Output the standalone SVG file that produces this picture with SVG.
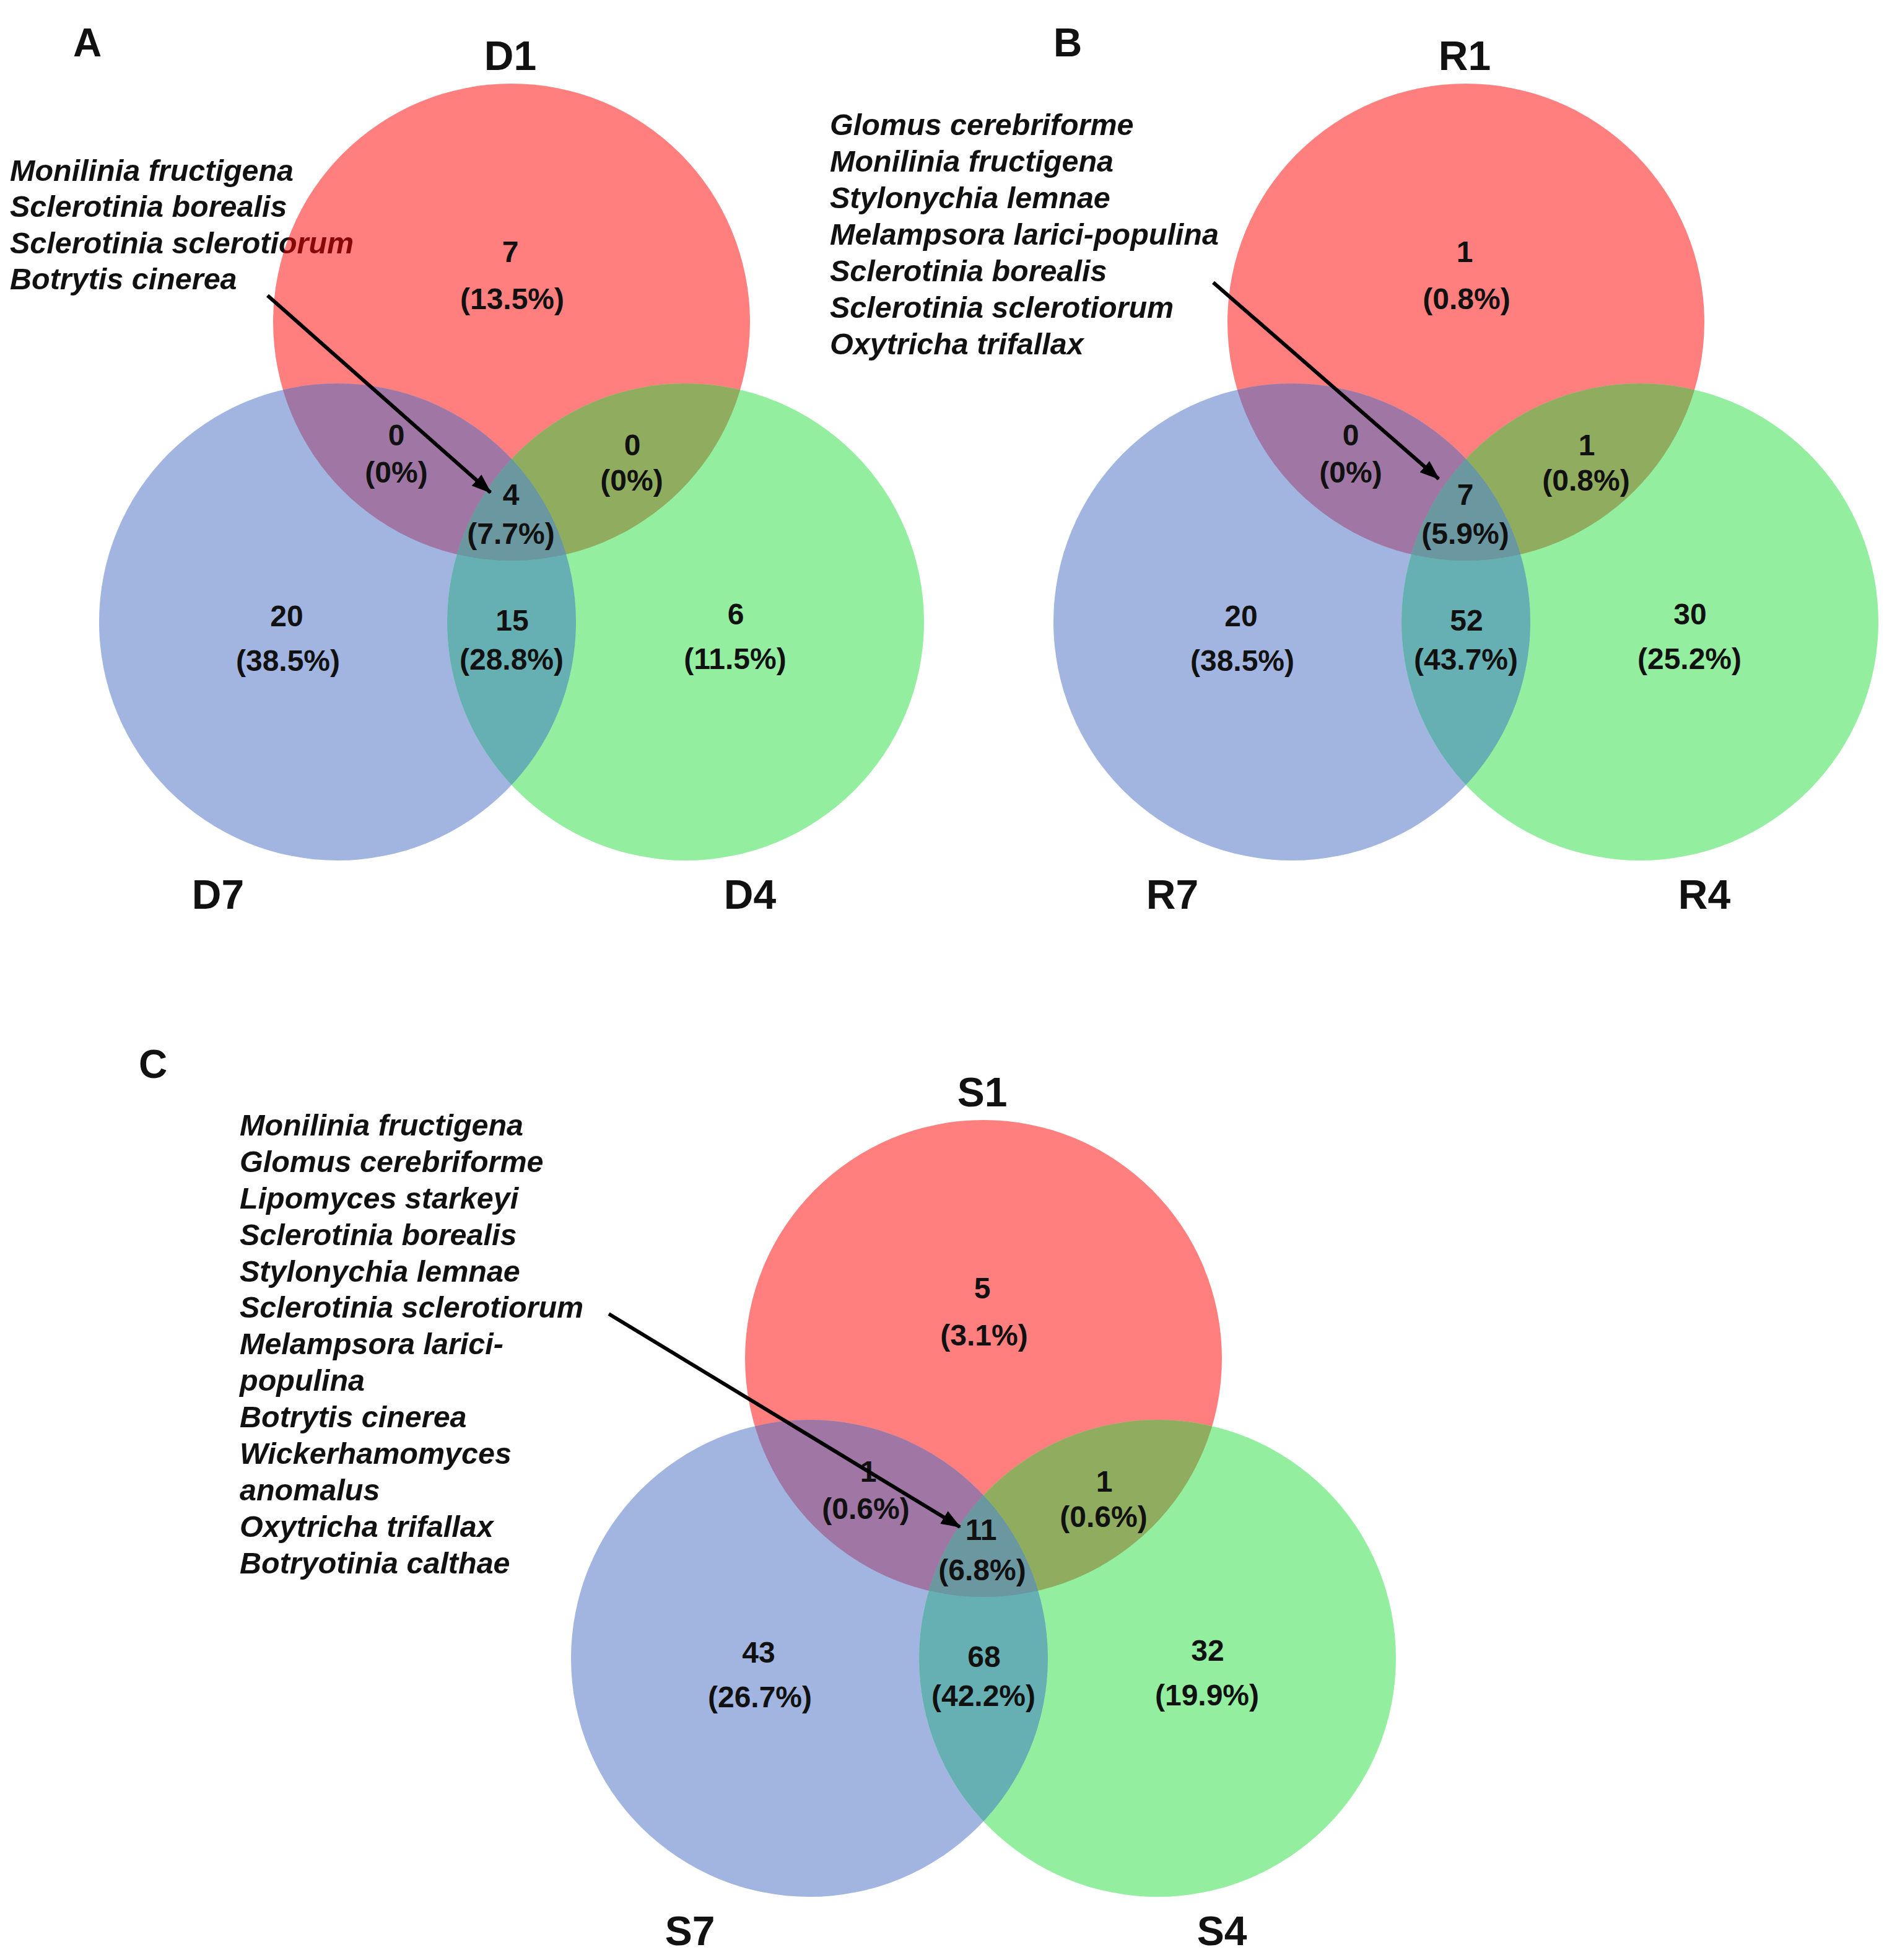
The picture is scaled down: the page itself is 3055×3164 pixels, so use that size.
<svg xmlns="http://www.w3.org/2000/svg" width="3055" height="3164" viewBox="0 0 3055 3164">
<style>
text{font-family:"Liberation Sans",Arial,sans-serif;font-weight:bold;fill:#111}
.sp{font-style:italic;font-size:48.5px}
.num{font-size:48px;text-anchor:middle}
.set{font-size:66px;text-anchor:middle}
.pan{font-size:64px;text-anchor:middle}
.red{fill:#FF0000;fill-opacity:0.5}
.blue{fill:#A1B5E0}
.green{fill:#93EEA0}
.rb{fill:#A076A4}
.rg{fill:#90AC5E}
.bg{fill:#66B0B4}
.rbg{fill:#6A97A0}
.arrow{stroke:#000;stroke-width:6;fill:none;marker-end:url(#ah)}
</style>
<defs>
<marker id="ah" markerUnits="userSpaceOnUse" markerWidth="32" markerHeight="24" refX="30" refY="12" orient="auto"><path d="M0,0 L32,12 L0,24 z" fill="#000"/></marker>
<clipPath id="cA1"><circle cx="826" cy="520" r="385"/></clipPath>
<clipPath id="cA7"><circle cx="545" cy="1004" r="385"/></clipPath>
<clipPath id="cB1"><circle cx="2367" cy="520" r="385"/></clipPath>
<clipPath id="cB7"><circle cx="2086" cy="1004" r="385"/></clipPath>
<clipPath id="cC1"><circle cx="1588" cy="2193" r="385"/></clipPath>
<clipPath id="cC7"><circle cx="1307" cy="2677" r="385"/></clipPath>
</defs>
<rect width="3055" height="3164" fill="#fff"/>

<!-- Panel A -->
<g id="panelA">
<text class="pan" x="141" y="91">A</text>
<g id="listA">
<text class="sp" x="16" y="292">Monilinia fructigena</text>
<text class="sp" x="16" y="350">Sclerotinia borealis</text>
<text class="sp" x="16" y="409">Sclerotinia sclerotiorum</text>
<text class="sp" x="16" y="467">Botrytis cinerea</text>
</g>
<g id="D1"><circle class="red" cx="826" cy="520" r="385"/><text class="set" x="824" y="113">D1</text></g>
<g id="D7"><circle class="blue" cx="545" cy="1004" r="385"/><text class="set" x="352" y="1467">D7</text></g>
<g id="D4"><circle class="green" cx="1107" cy="1004" r="385"/><text class="set" x="1211" y="1467">D4</text></g>
<g id="A-overlaps">
<circle class="rb" cx="545" cy="1004" r="385" clip-path="url(#cA1)"/>
<circle class="rg" cx="1107" cy="1004" r="385" clip-path="url(#cA1)"/>
<circle class="bg" cx="1107" cy="1004" r="385" clip-path="url(#cA7)"/>
<g clip-path="url(#cA1)"><circle class="rbg" cx="1107" cy="1004" r="385" clip-path="url(#cA7)"/></g>
</g>
<g id="A-counts">
<text class="num" x="824" y="423">7</text><text class="num" x="827" y="499">(13.5%)</text>
<text class="num" x="640" y="719">0</text><text class="num" x="640" y="779">(0%)</text>
<text class="num" x="1021" y="735">0</text><text class="num" x="1020" y="792">(0%)</text>
<text class="num" x="825" y="815">4</text><text class="num" x="825" y="878">(7.7%)</text>
<text class="num" x="463" y="1011">20</text><text class="num" x="465" y="1083">(38.5%)</text>
<text class="num" x="827" y="1018">15</text><text class="num" x="826" y="1081">(28.8%)</text>
<text class="num" x="1188" y="1008">6</text><text class="num" x="1187" y="1080">(11.5%)</text>
</g>
</g>

<!-- Panel B -->
<g id="panelB">
<text class="pan" x="1724" y="91">B</text>
<g id="listB">
<text class="sp" x="1340" y="218">Glomus cerebriforme</text>
<text class="sp" x="1340" y="277">Monilinia fructigena</text>
<text class="sp" x="1340" y="336">Stylonychia lemnae</text>
<text class="sp" x="1340" y="395">Melampsora larici-populina</text>
<text class="sp" x="1340" y="454">Sclerotinia borealis</text>
<text class="sp" x="1340" y="513">Sclerotinia sclerotiorum</text>
<text class="sp" x="1340" y="572">Oxytricha trifallax</text>
</g>
<g id="R1"><circle class="red" cx="2367" cy="520" r="385"/><text class="set" x="2365" y="113">R1</text></g>
<g id="R7"><circle class="blue" cx="2086" cy="1004" r="385"/><text class="set" x="1893" y="1467">R7</text></g>
<g id="R4"><circle class="green" cx="2648" cy="1004" r="385"/><text class="set" x="2752" y="1467">R4</text></g>
<g id="B-overlaps">
<circle class="rb" cx="2086" cy="1004" r="385" clip-path="url(#cB1)"/>
<circle class="rg" cx="2648" cy="1004" r="385" clip-path="url(#cB1)"/>
<circle class="bg" cx="2648" cy="1004" r="385" clip-path="url(#cB7)"/>
<g clip-path="url(#cB1)"><circle class="rbg" cx="2648" cy="1004" r="385" clip-path="url(#cB7)"/></g>
</g>
<g id="B-counts">
<text class="num" x="2365" y="423">1</text><text class="num" x="2368" y="499">(0.8%)</text>
<text class="num" x="2181" y="719">0</text><text class="num" x="2181" y="779">(0%)</text>
<text class="num" x="2562" y="735">1</text><text class="num" x="2561" y="792">(0.8%)</text>
<text class="num" x="2366" y="815">7</text><text class="num" x="2366" y="878">(5.9%)</text>
<text class="num" x="2004" y="1011">20</text><text class="num" x="2006" y="1083">(38.5%)</text>
<text class="num" x="2368" y="1018">52</text><text class="num" x="2367" y="1081">(43.7%)</text>
<text class="num" x="2729" y="1008">30</text><text class="num" x="2728" y="1080">(25.2%)</text>
</g>
</g>

<!-- Panel C -->
<g id="panelC">
<text class="pan" x="247" y="1740">C</text>
<g id="listC">
<text class="sp" x="387" y="1833">Monilinia fructigena</text>
<text class="sp" x="387" y="1892">Glomus cerebriforme</text>
<text class="sp" x="387" y="1951">Lipomyces starkeyi</text>
<text class="sp" x="387" y="2010">Sclerotinia borealis</text>
<text class="sp" x="387" y="2069">Stylonychia lemnae</text>
<text class="sp" x="387" y="2127">Sclerotinia sclerotiorum</text>
<text class="sp" x="387" y="2186">Melampsora larici-</text>
<text class="sp" x="387" y="2245">populina</text>
<text class="sp" x="387" y="2304">Botrytis cinerea</text>
<text class="sp" x="387" y="2363">Wickerhamomyces</text>
<text class="sp" x="387" y="2422">anomalus</text>
<text class="sp" x="387" y="2481">Oxytricha trifallax</text>
<text class="sp" x="387" y="2540">Botryotinia calthae</text>
</g>
<g id="S1"><circle class="red" cx="1588" cy="2193" r="385"/><text class="set" x="1586" y="1786">S1</text></g>
<g id="S7"><circle class="blue" cx="1307" cy="2677" r="385"/><text class="set" x="1114" y="3140">S7</text></g>
<g id="S4"><circle class="green" cx="1869" cy="2677" r="385"/><text class="set" x="1973" y="3140">S4</text></g>
<g id="C-overlaps">
<circle class="rb" cx="1307" cy="2677" r="385" clip-path="url(#cC1)"/>
<circle class="rg" cx="1869" cy="2677" r="385" clip-path="url(#cC1)"/>
<circle class="bg" cx="1869" cy="2677" r="385" clip-path="url(#cC7)"/>
<g clip-path="url(#cC1)"><circle class="rbg" cx="1869" cy="2677" r="385" clip-path="url(#cC7)"/></g>
</g>
<g id="C-counts">
<text class="num" x="1586" y="2096">5</text><text class="num" x="1589" y="2172">(3.1%)</text>
<text class="num" x="1402" y="2392">1</text><text class="num" x="1398" y="2452">(0.6%)</text>
<text class="num" x="1783" y="2408">1</text><text class="num" x="1782" y="2465">(0.6%)</text>
<text class="num" x="1584" y="2486">11</text><text class="num" x="1586" y="2551">(6.8%)</text>
<text class="num" x="1225" y="2684">43</text><text class="num" x="1227" y="2756">(26.7%)</text>
<text class="num" x="1589" y="2691">68</text><text class="num" x="1588" y="2754">(42.2%)</text>
<text class="num" x="1950" y="2681">32</text><text class="num" x="1949" y="2753">(19.9%)</text>
</g>
</g>

<g id="connectors">
<line class="arrow" x1="432" y1="477" x2="792" y2="795"/>
<line class="arrow" x1="1959" y1="456" x2="2323" y2="773"/>
<line class="arrow" x1="983" y1="2121" x2="1550" y2="2465"/>
</g>
</svg>
